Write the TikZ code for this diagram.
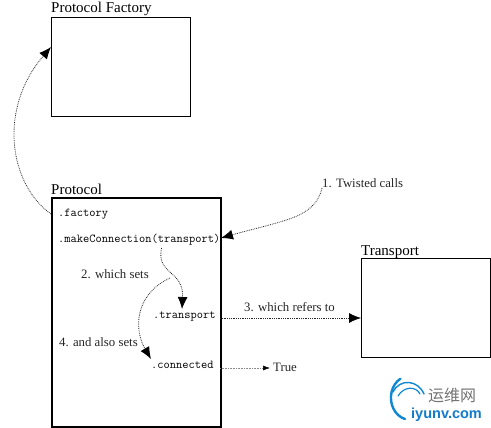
\documentclass[tikz,border=0pt]{standalone}
\usepackage{fontspec}
\usetikzlibrary{arrows.meta}
\setmainfont{Liberation Serif}
\newfontfamily\cjkf{Noto Sans CJK SC}
\newfontfamily\logof{Liberation Sans}[Scale=1]
\tikzset{
  x=1pt,y=-1pt,
  box/.style={draw=black,fill=white,line width=1.1pt,inner sep=0pt,anchor=north west},
  title/.style={font=\fontsize{15}{17}\selectfont,anchor=base west,inner sep=0pt},
  code/.style={font=\fontsize{12.1}{13}\ttfamily,anchor=base west,inner sep=0pt},
  lab/.style={font=\fontsize{12.8}{14}\selectfont,anchor=base west,inner sep=0pt,text=black!85},
  link/.style={densely dotted,line width=0.8pt,black!85,-{Latex[length=12pt,width=10pt,black]}},
  swoosh/.style={line cap=round,color=cyan!70!blue}
}
\begin{document}
\begin{tikzpicture}
\useasboundingbox (0,0) rectangle (491,428);
\node[box,minimum width=139pt,minimum height=99pt] (factory) at (51,17) {};
\node[box,line width=1.7pt,minimum width=169pt,minimum height=229pt] (protocol) at (51,197) {};
\node[box,minimum width=129pt,minimum height=99pt] (transport) at (361,258) {};
\node[title] (tf) at (51,13) {Protocol Factory};
\node[title] (tp) at (51,194) {Protocol};
\node[title] (tt) at (361,255) {Transport};
\node[code] (f) at (58,217) {.factory};
\node[code] (mc) at (58,243) {.makeConnection(transport)};
\node[code] (tr) at (153,318) {.transport};
\node[code] (co) at (151,368) {.connected};
\node[lab] (l1) at (322,188) {1. Twisted calls};
\node[lab] (l2) at (81,278) {2. which sets};
\node[lab] (l3) at (244,311) {3. which refers to};
\node[lab] (l4) at (59,346) {4. and also sets};
\node[lab] (true) at (273,371) {True};
\coordinate (a) at (51,214);
\coordinate (b) at (51,47);
\coordinate (c) at (322,188);
\coordinate (d) at (221,238);
\coordinate (e) at (161.5,248);
\coordinate (g) at (182,309);
\coordinate (h) at (151,359);
\coordinate (i) at (220,318);
\coordinate (j) at (361,318);
\coordinate (k) at (220,368);
\coordinate (m) at (270,368);
\coordinate (s) at (170,278);
\draw[link] (a) .. controls (10,185) and (-3,110) .. (b);
\draw[link] (c) .. controls (315,218) and (285,220) .. (d);
\draw[link] (e) .. controls (156,275) and (184,270) .. (g);
\draw[link] (s) .. controls (134,295) and (134,330) .. (h);
\draw[link] (i) -- (j);
\draw[densely dotted,line width=0.6pt,black!45,-{Latex[length=7pt,width=5pt,black]}] (k) -- (m);
% watermark
\draw[swoosh,line width=2.4pt] (405,419) arc (255:120:19pt and 22pt);
\draw[swoosh,line width=1.4pt] (393,392) .. controls (400,378) and (418,380) .. (424,394);
\draw[swoosh,line width=1.2pt] (398,396) .. controls (404,386) and (416,386) .. (420,394);
\node[font=\cjkf\fontsize{16}{18}\selectfont,text=black!55,anchor=base west,inner sep=0pt] (wm1) at (428,401) {运维网};
\node[font=\logof\bfseries\fontsize{14.5}{16}\selectfont,text=cyan!60!blue,anchor=base west,inner sep=0pt] (wm2) at (411,418) {iyunv.com};
\end{tikzpicture}
\end{document}
